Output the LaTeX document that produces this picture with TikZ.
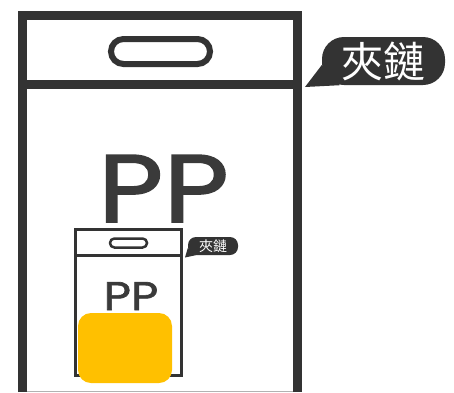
\documentclass[tikz,border=0pt]{standalone}
\usepackage{fontspec}
\newfontfamily\ppfont[FakeStretch=1.18,FakeBold=1.6]{Poppins}
\newfontfamily\cjk{Noto Sans CJK TC}
\definecolor{bagline}{HTML}{333333}
\definecolor{pptext}{HTML}{3A3A3A}
\definecolor{patch}{HTML}{FFC000}

\tikzstyle{bag} = [draw=bagline, line width=9pt]
\tikzstyle{minibag} = [draw=bagline, line width=3pt]
\tikzstyle{bubble} = [rectangle, fill=bagline, text=white, inner sep=0pt, text centered]
\tikzstyle{label} = [text=pptext, inner sep=0pt, anchor=base]

\begin{document}
\begin{tikzpicture}[x=1pt,y=-1pt]
\useasboundingbox (0,0) rectangle (454,392);
%Big bag
\draw [bag] (22.5,392) -- (22.5,15) -- (297.5,15) -- (297.5,392);
\draw [bag] (22.5,84.5) -- (297.5,84.5);
\draw [bagline, line width=6pt, rounded corners=12.5pt] (111,39) rectangle (210,64);
\draw [gray!60, line width=0.8pt] (27,391) -- (293,391);
\node (bigpp) [label, font=\ppfont\fontsize{96}{96}\selectfont] at (163.5,222) {PP};

%Small bag
\draw [minibag] (75.5,375.5) rectangle (181.5,229);
\draw [minibag] (75.5,255.5) -- (181.5,255.5);
\draw [bagline, line width=2.5pt, rounded corners=4.4pt] (110,238.5) rectangle (147,247.5);
\node (smallpp) [label, font=\ppfont\fontsize{40}{40}\selectfont] at (131,310) {PP};
\fill [patch, rounded corners=13pt] (78,313) rectangle (172,383);

%Callouts
\node (bigtag) [bubble, minimum width=123pt, minimum height=48pt, rounded corners=22pt,
  font=\cjk\fontsize{42}{42}\selectfont] at (383.5,61) {夾鏈};
\coordinate (bigtip) at (305,87);
\fill [bagline] ([yshift=-4pt]bigtag.west) -- (bigtip) -- ([xshift=18pt]bigtag.south west) -- cycle;

\node (smalltag) [bubble, minimum width=50pt, minimum height=18pt, rounded corners=8pt,
  font=\cjk\fontsize{14}{14}\selectfont] at (213,246) {夾鏈};
\coordinate (smalltip) at (185,257.5);
\fill [bagline] ([yshift=-2pt]smalltag.west) -- (smalltip) -- ([xshift=8pt]smalltag.south west) -- cycle;

\end{tikzpicture}
\end{document}
